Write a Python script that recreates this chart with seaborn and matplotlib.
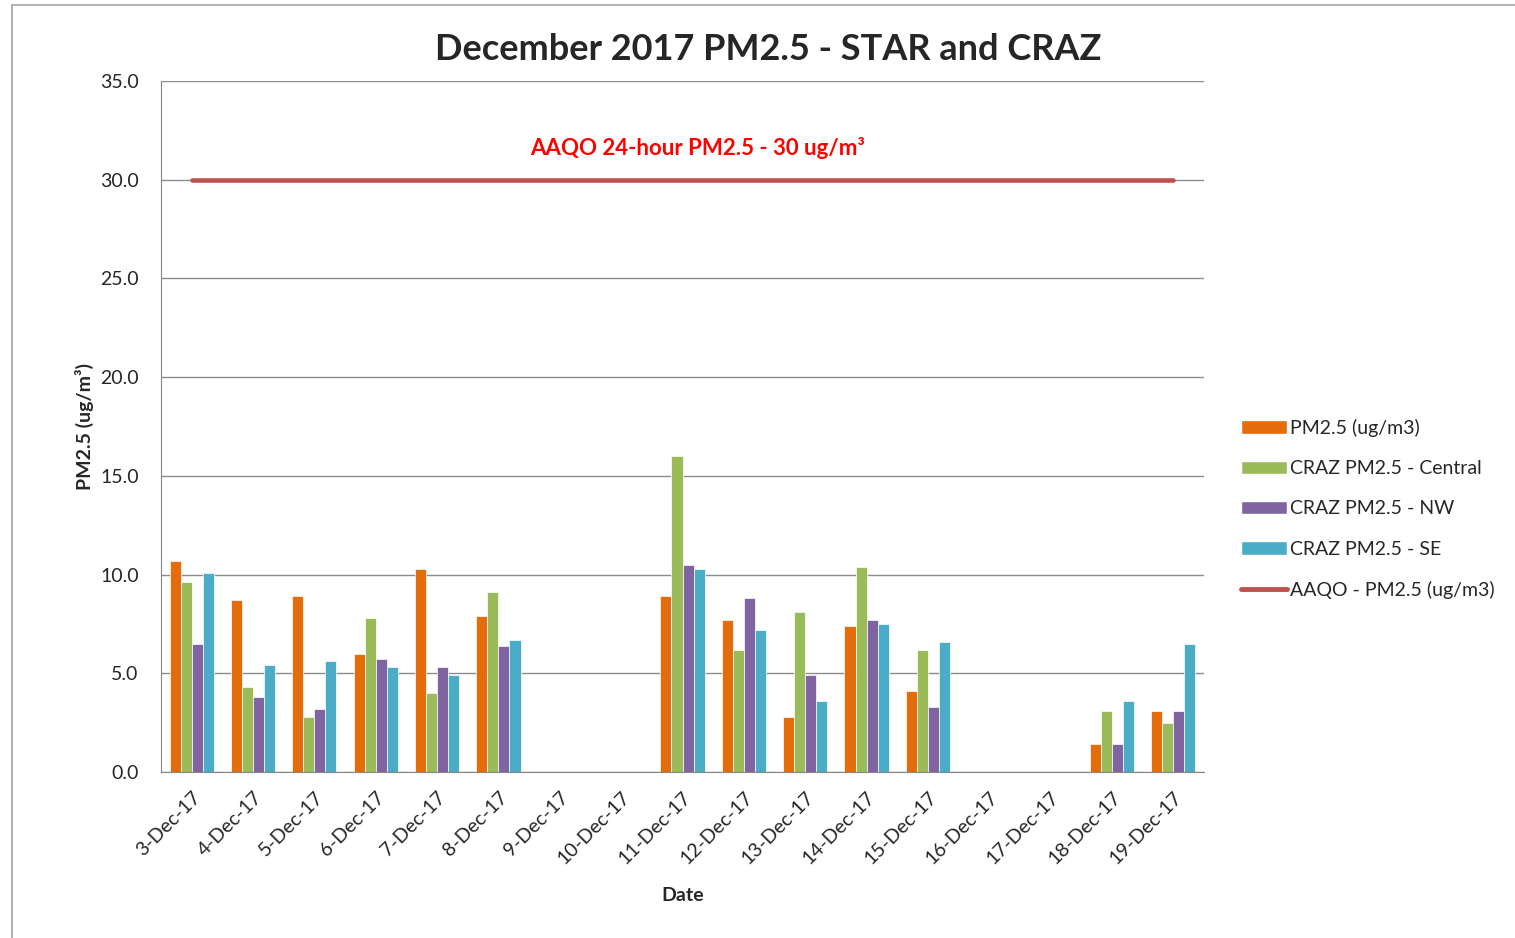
import numpy as np
import pandas as pd
import matplotlib
matplotlib.use("Agg")
import matplotlib.pyplot as plt
from matplotlib.patches import Patch
from matplotlib.lines import Line2D
from matplotlib.ticker import FixedLocator
import seaborn as sns

dates = ["3-Dec-17", "4-Dec-17", "5-Dec-17", "6-Dec-17", "7-Dec-17", "8-Dec-17",
         "9-Dec-17", "10-Dec-17", "11-Dec-17", "12-Dec-17", "13-Dec-17", "14-Dec-17",
         "15-Dec-17", "16-Dec-17", "17-Dec-17", "18-Dec-17", "19-Dec-17"]
nan = np.nan
pm25 = [10.7, 8.7, 8.9, 6.0, 10.3, 7.9, nan, nan, 8.9, 7.7, 2.8, 7.4, 4.1, nan, nan, 1.4, 3.1]
central = [9.6, 4.3, 2.8, 7.8, 4.0, 9.1, nan, nan, 16.0, 6.2, 8.1, 10.4, 6.2, nan, nan, 3.1, 2.5]
nw = [6.5, 3.8, 3.2, 5.7, 5.3, 6.4, nan, nan, 10.5, 8.8, 4.9, 7.7, 3.3, nan, nan, 1.4, 3.1]
se = [10.1, 5.4, 5.6, 5.3, 4.9, 6.7, nan, nan, 10.3, 7.2, 3.6, 7.5, 6.6, nan, nan, 3.6, 6.5]
aaqo = [30.0, 30.0, 30.0, 30.0, 30.0, 30.0, 30.0, 30.0, 30.0, 30.0, 30.0, 30.0,
        30.0, 30.0, 30.0, 30.0, 30.0]

series_names = ["PM2.5 (ug/m3)", "CRAZ PM2.5 - Central", "CRAZ PM2.5 - NW", "CRAZ PM2.5 - SE"]
line_name = "AAQO - PM2.5 (ug/m3)"
colors = ["#E46C0A", "#9BBB59", "#8064A2", "#4BACC6"]
line_color = "#C0504D"

df = pd.DataFrame({"Date": dates, series_names[0]: pm25, series_names[1]: central,
                   series_names[2]: nw, series_names[3]: se})
long = df.melt(id_vars="Date", var_name="Series", value_name="Value")

sns.set_style("white")
plt.rcParams["font.family"] = ["Lato", "DejaVu Sans"]

fig = plt.figure(figsize=(15.15, 9.38), dpi=100)
ax = fig.add_axes([161 / 1515, 1 - 772 / 938, (1204 - 161) / 1515, (772 - 81) / 938])

sns.barplot(data=long, x="Date", y="Value", hue="Series", order=dates,
            hue_order=series_names, palette=colors, saturation=1, width=0.72,
            errorbar=None, legend=False, edgecolor="white", linewidth=0.5, ax=ax)

ax.plot(np.arange(len(dates)), aaqo, color=line_color, lw=3.3, solid_capstyle="round")
ax.text(8.25, 31.6, "AAQO 24-hour PM2.5 - 30 ug/m³", color="#FF0000",
        fontsize=16, fontweight="bold", ha="center", va="center")

# Axes façon Excel
ax.set_xlim(-0.5, len(dates) - 0.5)
ax.set_ylim(0, 35)
ax.set_yticks(np.arange(0, 35.1, 5))
ax.set_yticklabels([f"{v:.1f}" for v in np.arange(0, 35.1, 5)], fontsize=14)
ax.yaxis.grid(True, color="#8c8c8c", lw=1)
ax.set_axisbelow(True)
for s in ["top", "right"]:
    ax.spines[s].set_visible(False)
for s in ["left", "bottom"]:
    ax.spines[s].set_color("#868686")
ax.tick_params(axis="y", length=6, color="#868686", pad=10)

ax.set_xticks(np.arange(len(dates)))
ax.set_xticklabels(dates, rotation=45, ha="right", rotation_mode="anchor", fontsize=14)
ax.tick_params(axis="x", which="major", length=0, pad=12)
ax.xaxis.set_minor_locator(FixedLocator(np.arange(-0.5, len(dates), 1)))
ax.tick_params(axis="x", which="minor", length=6, color="#868686")

ax.set_xlabel("Date", fontsize=14, fontweight="bold", labelpad=14)
ax.set_ylabel("PM2.5 (ug/m³)", fontsize=14, fontweight="bold", labelpad=4)
fig.text(768 / 1515, 1 - 50 / 938, "December 2017 PM2.5 - STAR and CRAZ",
         fontsize=26, fontweight="bold", ha="center", va="center")

# Légende
handles = [Patch(facecolor=c, edgecolor="white") for c in colors]
handles.append(Line2D([0], [0], color=line_color, lw=3.5, solid_capstyle="round"))
fig.legend(handles, series_names + [line_name], loc="center left",
           bbox_to_anchor=(1223 / 1515, 1 - 509 / 938), frameon=False, fontsize=14,
           handlelength=2.4, handleheight=0.7, handletextpad=0.15, labelspacing=1.2)

# Bordure du graphique
fig.add_artist(Line2D([12 / 1515, 12 / 1515], [0, 1 - 5 / 938], color="#a6a6a6", lw=1.2))
fig.add_artist(Line2D([12 / 1515, 1], [1 - 5 / 938, 1 - 5 / 938], color="#a6a6a6", lw=1.2))

fig.savefig("out.png", dpi=100)
